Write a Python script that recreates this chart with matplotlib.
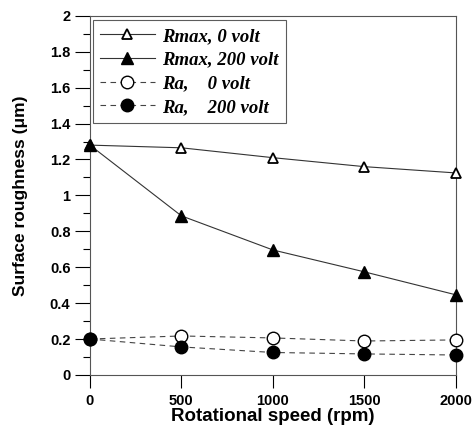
import matplotlib
matplotlib.use("Agg")
import matplotlib.pyplot as plt
from matplotlib.ticker import MultipleLocator

speed = [0, 500, 1000, 1500, 2000]
rmax_0v = [1.28, 1.265, 1.21, 1.16, 1.125]
rmax_200v = [1.28, 0.886, 0.696, 0.574, 0.446]
ra_0v = [0.20, 0.217, 0.206, 0.189, 0.195]
ra_200v = [0.20, 0.156, 0.125, 0.117, 0.111]
labels = ["Rmax, 0 volt", "Rmax, 200 volt", "Ra,    0 volt", "Ra,    200 volt"]
yticks = [0, 0.2, 0.4, 0.6, 0.8, 1, 1.2, 1.4, 1.6, 1.8, 2]
yticklabels = ["0", "0.2", "0.4", "0.6", "0.8", "1", "1.2", "1.4", "1.6", "1.8", "2"]

fig = plt.figure(figsize=(4.73, 4.28), dpi=100)
ax = fig.add_axes([0.190, 0.124, 0.774, 0.839])

lw = 0.8
ax.plot(speed, rmax_0v, '-', color='#333333', lw=lw, marker='^', ms=7,
        mfc='white', mec='black', mew=1.3, label=labels[0], clip_on=False, zorder=3)
ax.plot(speed, rmax_200v, '-', color='#333333', lw=lw, marker='^', ms=8,
        mfc='black', mec='black', label=labels[1], clip_on=False, zorder=3)
ax.plot(speed, ra_0v, '--', color='#444444', lw=lw, marker='o', ms=9,
        mfc='white', mec='black', mew=1.0, label=labels[2], clip_on=False, zorder=3, dashes=(5, 4))
ax.plot(speed, ra_200v, '--', color='#444444', lw=lw, marker='o', ms=9,
        mfc='black', mec='black', label=labels[3], clip_on=False, zorder=3, dashes=(5, 4))

ax.set_xlim(0, 2000)
ax.set_ylim(0, 2)
ax.xaxis.set_major_locator(MultipleLocator(500))
ax.set_yticks(yticks)
ax.set_yticklabels(yticklabels)
ax.yaxis.set_minor_locator(MultipleLocator(0.1))

for s in ax.spines.values():
    s.set_linewidth(0.8)
    s.set_color('#555555')

ax.tick_params(axis='y', which='major', direction='out', length=11, width=0.8, pad=3)
ax.tick_params(axis='y', which='minor', direction='out', length=5, width=0.8)
ax.tick_params(axis='x', which='major', direction='out', length=9, width=0.8, pad=5)

for t in ax.get_xticklabels() + ax.get_yticklabels():
    t.set_fontfamily('Liberation Sans')
    t.set_fontweight('bold')
    t.set_fontsize(10.5)

ax.set_xlabel("Rotational speed (rpm)", fontfamily='Liberation Sans', fontweight='bold',
              fontsize=13.5, labelpad=0)
ax.set_ylabel("Surface roughness (\u03bcm)", fontfamily='Liberation Sans', fontweight='bold',
              fontsize=12.5, labelpad=16)

leg = ax.legend(loc='upper left', bbox_to_anchor=(0.008, 0.988), frameon=True, fancybox=False,
                prop={'family': 'Liberation Serif', 'weight': 'bold', 'style': 'italic', 'size': 13.5},
                handlelength=2.9, handletextpad=0.4, labelspacing=0.35, borderpad=0.4,
                borderaxespad=0)
leg.get_frame().set_edgecolor('#333333')
leg.get_frame().set_linewidth(0.8)

fig.savefig("out.png", dpi=100)
